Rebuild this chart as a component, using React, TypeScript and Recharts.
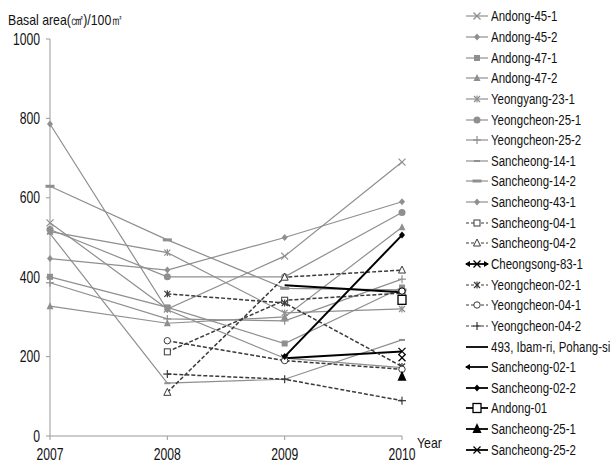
import React from "react";
import { LineChart, Line, XAxis, YAxis } from "recharts";

const FONT = "'Liberation Sans', Arial, sans-serif";
const GREY = "#8f8f8f";
const DARK = "#3a3a3a";
const SQUEEZE = 0.76;

// years on the x axis and the y ticks
const years = [2007, 2008, 2009, 2010];
const yTicks = [0, 200, 400, 600, 800, 1000];

// plots surveyed since 2007 (grey)
const andong45_1 = [537, 320, 453, 690];
const andong45_2 = [447, 418, 500, 590];
const andong47_1 = [401, 324, 233, 374];
const andong47_2 = [327, 284, 300, 526];
const yeongyang23_1 = [515, 462, 310, 320];
const yeongcheon25_1 = [520, 401, 401, 563];
const yeongcheon25_2 = [386, 295, 290, 395];
const sancheong14_1 = [510, 133, 143, 242];
const sancheong14_2 = [629, 494, 372, 368];
const sancheong43_1 = [786, 318, 196, 172];

// plots surveyed since 2008 (dashed)
const sancheong04_1 = [null, 212, 342, 360];
const sancheong04_2 = [null, 110, 400, 418];
const yeongcheon02_1 = [null, 358, 335, 175];
const yeongcheon04_1 = [null, 240, 190, 168];
const yeongcheon04_2 = [null, 156, 143, 89];

// plots surveyed since 2009 / 2010 (black)
const cheongsong83_1 = [null, null, 196, 213];
const ibamri493 = [null, null, 380, 362];
const sancheong02_1 = [null, null, null, 365];
const sancheong02_2 = [null, null, 200, 506];
const andong01 = [null, null, null, 343];
const sancheong25_1 = [null, null, null, 149];
const sancheong25_2 = [null, null, null, 197];

type Kind = "grey" | "dash" | "black";
interface Series {
  key: string;
  name: string;
  values: (number | null)[];
  kind: Kind;
  shape: string;
  arrows?: "both" | "left";
}

const series: Series[] = [
  { key: "a451", name: "Andong-45-1", values: andong45_1, kind: "grey", shape: "x" },
  { key: "a452", name: "Andong-45-2", values: andong45_2, kind: "grey", shape: "diamond" },
  { key: "a471", name: "Andong-47-1", values: andong47_1, kind: "grey", shape: "square" },
  { key: "a472", name: "Andong-47-2", values: andong47_2, kind: "grey", shape: "triangle" },
  { key: "y231", name: "Yeongyang-23-1", values: yeongyang23_1, kind: "grey", shape: "star" },
  { key: "y251", name: "Yeongcheon-25-1", values: yeongcheon25_1, kind: "grey", shape: "circle" },
  { key: "y252", name: "Yeongcheon-25-2", values: yeongcheon25_2, kind: "grey", shape: "plus" },
  { key: "s141", name: "Sancheong-14-1", values: sancheong14_1, kind: "grey", shape: "dash" },
  { key: "s142", name: "Sancheong-14-2", values: sancheong14_2, kind: "grey", shape: "wdash" },
  { key: "s431", name: "Sancheong-43-1", values: sancheong43_1, kind: "grey", shape: "diamond" },
  { key: "s041", name: "Sancheong-04-1", values: sancheong04_1, kind: "dash", shape: "osquare" },
  { key: "s042", name: "Sancheong-04-2", values: sancheong04_2, kind: "dash", shape: "otriangle" },
  { key: "c831", name: "Cheongsong-83-1", values: cheongsong83_1, kind: "black", shape: "x", arrows: "both" },
  { key: "y021", name: "Yeongcheon-02-1", values: yeongcheon02_1, kind: "dash", shape: "star" },
  { key: "y041", name: "Yeongcheon-04-1", values: yeongcheon04_1, kind: "dash", shape: "ocircle" },
  { key: "y042", name: "Yeongcheon-04-2", values: yeongcheon04_2, kind: "dash", shape: "plus" },
  { key: "i493", name: "493, Ibam-ri, Pohang-si", values: ibamri493, kind: "black", shape: "none" },
  { key: "s021", name: "Sancheong-02-1", values: sancheong02_1, kind: "black", shape: "ocircle", arrows: "left" },
  { key: "s022", name: "Sancheong-02-2", values: sancheong02_2, kind: "black", shape: "diamond" },
  { key: "a01", name: "Andong-01", values: andong01, kind: "black", shape: "bigsquare" },
  { key: "s251", name: "Sancheong-25-1", values: sancheong25_1, kind: "black", shape: "bigtriangle" },
  { key: "s252", name: "Sancheong-25-2", values: sancheong25_2, kind: "black", shape: "x" },
];

const data = years.map((year, i) => {
  const row: Record<string, number | null> = { year };
  series.forEach((s) => {
    row[s.key] = s.values[i];
  });
  return row;
});

const colorOf = (k: Kind) => (k === "grey" ? GREY : k === "dash" ? DARK : "#000");

function Marker({ shape, x, y, color }: { shape: string; x: number; y: number; color: string }) {
  switch (shape) {
    case "x":
      return (
        <g stroke={color} strokeWidth={1.2}>
          <line x1={x - 3.5} y1={y - 3.5} x2={x + 3.5} y2={y + 3.5} />
          <line x1={x - 3.5} y1={y + 3.5} x2={x + 3.5} y2={y - 3.5} />
        </g>
      );
    case "star":
      return (
        <g stroke={color} strokeWidth={1.2}>
          <line x1={x - 3} y1={y - 3} x2={x + 3} y2={y + 3} />
          <line x1={x - 3} y1={y + 3} x2={x + 3} y2={y - 3} />
          <line x1={x} y1={y - 3.5} x2={x} y2={y + 3.5} />
        </g>
      );
    case "diamond":
      return <polygon points={`${x},${y - 3.5} ${x + 3},${y} ${x},${y + 3.5} ${x - 3},${y}`} fill={color} />;
    case "square":
      return <rect x={x - 3} y={y - 3} width={6} height={6} fill={color} />;
    case "triangle":
      return <polygon points={`${x},${y - 4} ${x + 3.5},${y + 3} ${x - 3.5},${y + 3}`} fill={color} />;
    case "circle":
      return <circle cx={x} cy={y} r={3.5} fill={color} />;
    case "plus":
      return (
        <g stroke={color} strokeWidth={1.2}>
          <line x1={x - 4} y1={y} x2={x + 4} y2={y} />
          <line x1={x} y1={y - 4} x2={x} y2={y + 4} />
        </g>
      );
    case "dash":
      return <rect x={x - 3} y={y - 1} width={6} height={2} fill={color} />;
    case "wdash":
      return <rect x={x - 4.5} y={y - 1.5} width={9} height={3} fill={color} />;
    case "osquare":
      return <rect x={x - 3} y={y - 3} width={6} height={6} fill="#fff" stroke={color} strokeWidth={1} />;
    case "otriangle":
      return <polygon points={`${x},${y - 4} ${x + 3.5},${y + 3} ${x - 3.5},${y + 3}`} fill="#fff" stroke={color} strokeWidth={1} />;
    case "ocircle":
      return <circle cx={x} cy={y} r={3.2} fill="#fff" stroke={color} strokeWidth={1} />;
    case "bigsquare":
      return <rect x={x - 4} y={y - 4.5} width={8} height={9} fill="#fff" stroke={color} strokeWidth={1.3} />;
    case "bigtriangle":
      return <polygon points={`${x},${y - 6} ${x + 4.5},${y + 4} ${x - 4.5},${y + 4}`} fill={color} />;
    default:
      return null;
  }
}

const renderDot = (s: Series) => (p: any) => {
  const { cx, cy, value, index } = p;
  if (value == null || cy == null || cx == null) return <g key={`${s.key}-${index}`} />;
  return (
    <g key={`${s.key}-${index}`}>
      <Marker shape={s.shape} x={cx} y={cy} color={colorOf(s.kind)} />
    </g>
  );
};

const XTick = (p: any) => (
  <text
    transform={`translate(${p.x},460) scale(${SQUEEZE},1)`}
    textAnchor="middle"
    fontSize={16}
    fill="#111"
    fontFamily={FONT}
  >
    {p.payload.value}
  </text>
);

const YTick = (p: any) => (
  <text
    transform={`translate(40,${p.y + 5.5}) scale(${SQUEEZE},1)`}
    textAnchor="end"
    fontSize={16}
    fill="#111"
    fontFamily={FONT}
  >
    {p.payload.value}
  </text>
);

const squeezed: React.CSSProperties = {
  display: "inline-block",
  transform: `scaleX(${SQUEEZE + 0.06})`,
  transformOrigin: "left center",
  whiteSpace: "nowrap",
};

function LegendBox() {
  return (
    <div style={{ position: "absolute", left: 464, top: 6, fontFamily: FONT, fontSize: 14, color: "#111" }}>
      {series.map((s) => {
        const c = colorOf(s.kind);
        return (
          <div key={s.key} style={{ height: 20.65, display: "flex", alignItems: "center", whiteSpace: "nowrap" }}>
            <svg width={26} height={14} style={{ display: "block", flex: "none" }}>
              <line
                x1={2}
                y1={7}
                x2={24}
                y2={7}
                stroke={c}
                strokeWidth={s.kind === "black" ? 1.8 : 1.2}
                strokeDasharray={s.kind === "dash" ? "3 2" : undefined}
              />
              {s.arrows && <polygon points="1,7 6,4 6,10" fill={c} />}
              {s.arrows === "both" && <polygon points="25,7 20,4 20,10" fill={c} />}
              {s.arrows !== "left" && <Marker shape={s.shape} x={13} y={7} color={c} />}
            </svg>
            <span style={{ ...squeezed, marginLeft: 1 }}>{s.name}</span>
          </div>
        );
      })}
    </div>
  );
}

export default function App() {
  return (
    <div style={{ position: "absolute", left: 0, top: 0, width: 616, height: 463, background: "#fff", overflow: "hidden" }}>
      <LineChart width={616} height={463} data={data} margin={{ top: 39, right: 214, bottom: 0, left: 0 }}>
        <XAxis
          dataKey="year"
          type="number"
          domain={[2007, 2010]}
          ticks={years}
          height={27}
          tickSize={4}
          stroke="#999"
          tick={<XTick />}
        />
        <YAxis
          type="number"
          domain={[0, 1000]}
          ticks={yTicks}
          width={50}
          tickSize={4}
          stroke="#999"
          tick={<YTick />}
        />
        {series.map((s) => (
          <Line
            key={s.key}
            dataKey={s.key}
            name={s.name}
            stroke={colorOf(s.kind)}
            strokeWidth={s.kind === "black" ? 2 : s.kind === "dash" ? 1.5 : 1.2}
            strokeDasharray={s.kind === "dash" ? "4 2" : undefined}
            dot={renderDot(s)}
            activeDot={false}
            isAnimationActive={false}
          />
        ))}
      </LineChart>
      <div style={{ position: "absolute", left: 8, top: 11, fontFamily: FONT, fontSize: 15, color: "#111" }}>
        <span style={squeezed}>Basal area(㎠)/100㎡</span>
      </div>
      <div style={{ position: "absolute", left: 417, top: 434, fontFamily: FONT, fontSize: 15, color: "#111" }}>
        <span style={squeezed}>Year</span>
      </div>
      <LegendBox />
    </div>
  );
}
